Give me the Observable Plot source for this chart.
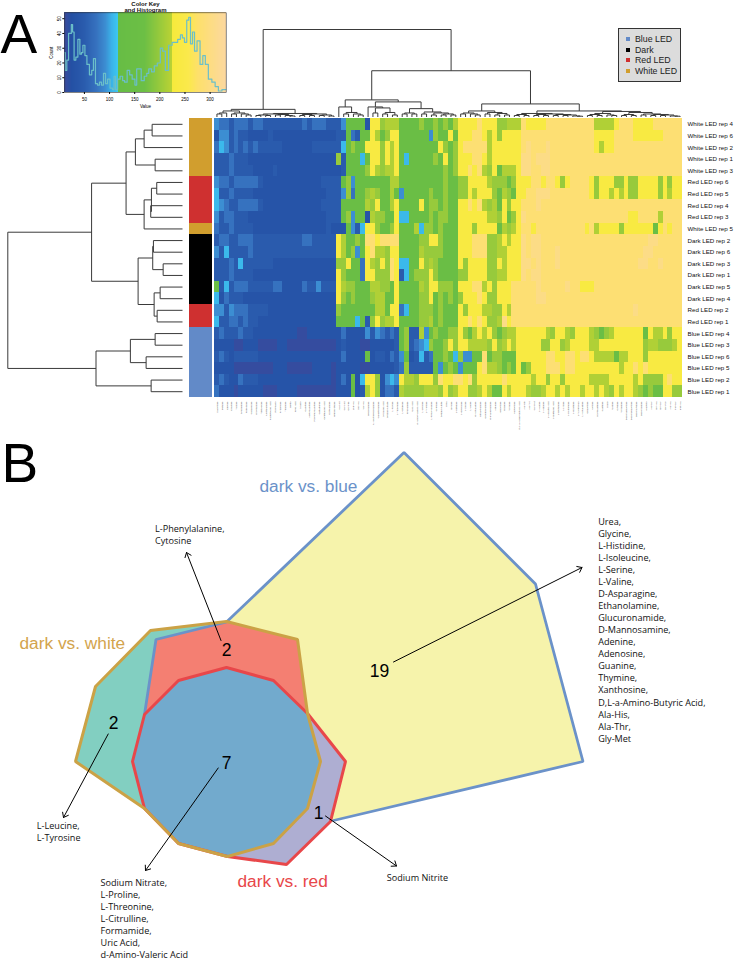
<!DOCTYPE html>
<html>
<head>
<meta charset="utf-8">
<script src="https://cdn.jsdelivr.net/npm/d3@7"></script>
<script src="https://cdn.jsdelivr.net/npm/@observablehq/plot@0.6"></script>
<style>
html,body{margin:0;padding:0;background:#fff;}
#page{position:relative;width:734px;height:960px;overflow:hidden;font-family:"Liberation Sans",sans-serif;}
#page svg{position:absolute;background:transparent;overflow:visible;}
#legend{position:absolute;left:618px;top:28px;width:61px;height:52px;background:#dcdcdc;border:1px solid #333;font-size:8.8px;color:#222;}
#legend div{position:absolute;left:16px;line-height:10px;white-space:nowrap;}
#legend i{position:absolute;left:-9px;top:3px;width:4px;height:4px;display:block;}
</style>
</head>
<body>
<div id="page"></div>
<script>
// ---------- A: heat map ----------
const rowLabels = ["White LED rep 4","White LED rep 6","White LED rep 2","White LED rep 1","White LED rep 3","Red LED rep 6","Red LED rep 5","Red LED rep 4","Red LED rep 3","White LED rep 5","Dark LED rep 2","Dark LED rep 6","Dark LED rep 3","Dark LED rep 1","Dark LED rep 5","Dark LED rep 4","Red LED rep 2","Red LED rep 1","Blue LED rep 4","Blue LED rep 3","Blue LED rep 6","Blue LED rep 5","Blue LED rep 2","Blue LED rep 1"];
const rowGroups = ["White LED","White LED","White LED","White LED","White LED","Red LED","Red LED","Red LED","Red LED","White LED","Dark","Dark","Dark","Dark","Dark","Dark","Red LED","Red LED","Blue LED","Blue LED","Blue LED","Blue LED","Blue LED","Blue LED"];
const groupNames = ["Blue LED","Dark","Red LED","White LED"];
const groupColors = ["#628ac8","#000000","#cf3030","#d19e2e"];
const columnNames = ["Sarcosine","Betaine","Choline","Creatine","Taurine","Spermidine","Putrescine","Cadaverine","Hypotaurine","Trigonelline","Nicotinamide","Pantothenic Acid","Riboflavin","Pyridoxine","Thiamine","Biotin","Folic Acid","Niacin","Carnitine","Acetylcarnitine","Propionylcarnitine","Glutathione","Ophthalmic Acid","Cysteamine","Homocysteine","Ala-Leu","Gly-Leu","Gly-Phe","Leu-Ala","Ser-Ala","Val-Ala","Glucosamine","N-Acetylglucosamine","Galactosamine","Muramic Acid","Sodium Nitrate","L-Proline","L-Threonine","L-Citrulline","Formamide","Uric Acid","d-Amino-Valeric Acid","L-Leucine","L-Tyrosine","L-Phenylalanine","Cytosine","Sodium Nitrite","Urea","Glycine","L-Histidine","L-Isoleucine","L-Serine","L-Valine","D-Asparagine","Ethanolamine","Glucuronamide","D-Mannosamine","Adenine","Adenosine","Guanine","Thymine","Xanthosine","D,L-a-Amino-Butyric Acid","Ala-His","Ala-Thr","Gly-Met","L-Alanine","L-Arginine","L-Aspartic Acid","L-Glutamic Acid","L-Glutamine","L-Lysine","L-Methionine","L-Ornithine","L-Tryptophan","L-Asparagine","Guanosine","Inosine","Hypoxanthine","Xanthine","Uracil","Uridine","Cytidine","Thymidine","Deoxyadenosine","Deoxyguanosine","Deoxycytidine","Deoxyuridine","Allantoin","Ala-Gly","Gly-Ala","Gly-Gly","Gly-Pro","Ala-Ala","Pro-Gly","Met-Ala"];

const levelValues = {Z:14, A:35, B:50, C:75, D:92, E:108, G:150, H:200, I:218, Y:238, O:285, P:305, Q:320};

const heatRows = [
 "DCCBC CCBCC BBBBB BBBCB CCCBBB DGGGG AYYHI IIGGG GHGGH GHGIY YYYOYYY HHIII OYYYYOOOOOOOOOO IIII YOOOYYYYOOOOOO",
 "ADDBC BBAAA ABAAA AAAAA AAAAAB BGCBG GYIGH YYGGG GGGDH GGYGY YYOOYIY HYYYY OOOOOOOOOOOOOOO YYYY OOOOYYYYYYOOOO",
 "CEDBC BCBCB BBBBA AAAAA BBBBBB EGHGG YYYHY IYGGG GGGGG YHGHY OOOOOIY YYYYY OPOOOPOOOOOOOOO YIYY OOOOOOOOOOOOOO",
 "BBBCB BBAAA AAAAA AAAAA AAAAAH BGGGE GYYHY IYGEG GGGGH GYGHY YYOOYIY YYYYY PPOPPPOOOOOOOOO OOOO OOOOOOOOOOOOOO",
 "BBBCB BBBAA AABAA AAAAA AAAAAA BGGGG HYIHI IYGGG GGGGG GHGHY YOYOIHY GIIIY PPOOPPOOOOOOOOO OOOO OOOOOOOOOOOOOO",
 "DCCBC CCCCB AAAAA AAAAA AABBBB GHDGG GGGGG IIGGG GGGGG GHGGH HYYYYIH HHGHY YYOOYOOYHYOOOOY HYYY HHYHHYYYYHYHYY",
 "EBBCB BBBAA AAAAA AAAAA AAABBB DHCGG HIHGG IGDGG GGGHG GHGGH HYIYYYH GIHGY YOOPPPOOOOOOOOY HYYI YIYHHYYYYHYIYY",
 "EDCBB CCCCB AAAAA AAAAA AABBBB GGGGG IHYGG IYGGG GYGHH GHGGY YOYOIHI GYHYY OOOPOOOOOOOOOOO OOOO OOOOOOOOOOOOOO",
 "DBCCB BBAAA AAAAA AAAAA AAABBB GHDGG AIHHG GYEEG GGGHG HHGGY YYYYYII HYGHY POOOOOOOOOOOOOO OOOO OOOYYOOOOIOOOO",
 "CBBCB BBBAA AAAAA AAAAA AAABAA AGDBE YYHGG HYGGG IEHHG HGGGY YYHYYYY GIHIY OOYOOOOOOOOOOYO IYYY YHYYYYYYGYOYOO",
 "BCCBB CCCBB BBBBB BBBCC BBBBBY IGGHG OOYOO OOGGG GHHYY HGGGY YYOOOHH IYIYY POPPOOOOOOOOOOO OOOO OOOOOOOPPOOOOO",
 "DBEBB BBCBB BBBBB BBBBB BBBBBY IGHDG YOIIH YYGGG GIHHH HGGGY YYOOOHH IIYYY POPPOOOPOOOOOOO OOOO OOOOOOPPOOOOOO",
 "BBBCB EBBBB BBAAA AAAAA AAAAAH HYGGC YIHYH OYEEG GYHIH GGGGY HYYYYHH YIYYY PPOPOOOPOOOOOOO OOOO OOOOOPPOOPOOOO",
 "BBBCB BBBAA AAAAA AAAAA AAAAAY HGGGC YYHHH OYBEG HHHYH GGGGH HYYYYHH IIYYY POPPOOOOOOOOOOO OOOO OOOOOOOOOOOOOO",
 "GBEBC CCBBB BBCCA AAACB BDBBBY IHHGG GIIHH GYGGG GIHYY HHHGY YYOOIYH YYYOO OOOPOOOOOPOOYYY OOOO OOOOOOOOOOOOOO",
 "EACBB BAAAA AAAAA AAAAA AAAAAY HGHGG GHIIG GYGGG GHHYG HGHGH YYYOYHH YYYOO OOOPPOOOOOOOOOO OOOO OOOOOOOOOOOOOO",
 "DDBDC CCBBB BAAAA AAAAA AAAAAH GGGGG GGIIG YYCEG GHHHG HGGGY HYYYIIH HYIOO OOOOOOOOOOOOOOO OOOO OOOOPOOOOOOOOO",
 "EBBCC BCBBA AAAAA AAAAA AAAAAG GGGEG BHYHI IYGGG GHHIG HGGGY YOYOYHH IPYOO OOOOOOOOOOOOOOO OOOO OOOOOOOOOOOOOO",
 "BCBBB CBBAA AAAAA AAZZA AAAAAA CAAAA DBDCB CBGHB BIDGH GGHHY HGIYIYH GHIIY YYYYYIHYYIHYYYI HGHI YYYYYYGYIIYHYY",
 "AAAAZ ZAAAZ ZZZAA ZZZZZ ZZZZZA BAAAZ ZAAAA ABGHB CDEHG GHYHY YIIIIHY HIYIY YYYYHHYYHIYYYYI IYYY YYYYYYHIIHHHIY",
 "BCBAB BBBBA AAAAA AAAAA AAAAAA CAAAA GABBA CBDGA BEBCG GHGEH DDGGOGH HGGGY YYYYYOOYYOOYOOY IIII GIIYYYHYYYYYYY",
 "AAAAZ ZZZZZ ZZAAA ZZZZZ AAAAZA AAAAZ ZAAAA ABCHB BBBBG DGHGD GGGYOII HGHGY GHYYYOOOYOOYYYY YYYY YIYYOYOYYYYYYY",
 "BCBAA CBBBA AAAAA AAAAA AAAAZA CAGAE YYHAD EDYII HYYYH OYYOO YOHYYYY YOYYY YYIYYHYYHYYYYYI IIIY YYYYIYHHHHYOYY",
 "CAAAZ AAAAA ZZZAA AAZZZ ZZZZZA AAGAB IYHAC CBIHH HHIII HYHIY YHHIYIG GYIYY YIHHIYYIYIYYIYY IYIH YIYYIHGHGGYYHH"
];

// Colour key, piecewise as printed above the heat map
const keyDomain = [11,   25,       50,       75,       92,       104,      116,      117,      170,      224,      225,      258,      275,      332];
const keyRange  = ["#3a4b9e","#2450a4","#2a5bad","#3672bf","#3c8ed2","#3ab2e8","#3cc6f0","#67bd45","#6cbf45","#b9d234","#f6ea3c","#fbe94c","#fde06a","#fcd8a0"];

// Histogram inside the colour key
const histValue = [11,13,17,20,23,25,28,31,35,39,43,45,49,53,57,63,66,70,74,78,82,86,90,94,98,104,108,110,114,118,124,128,132,138,142,148,153,155,160,166,172,176,180,187,191,199,203,208,214,221,228,232,239,243,247,251,256,259,263,267,271,277,283,288,293,300,307,313,320,327,331];
const histCount = [27,15,22,40,40,46,41,22,24,36,26,27,32,25,19,12,15,23,6,5,7,5,13,6,9,3,2,11,2,9,11,8,7,15,12,9,5,16,16,8,11,13,16,14,18,20,30,28,15,32,34,34,36,39,37,34,49,51,33,41,28,35,19,25,19,9,7,4,1,2,2];
const keyTicksX = [50,100,150,200,250,300];
const keyTicksY = [0,10,20,30,40,50];

// Row dendrogram: [merge height, child, child]; a bare number is a row index
const rowTree = [174.3,
  [90.7,
    [56.3,
      [47, [38.3,[30.3,0,1],2],[27.3,3,4]],
      [38.3,[31,[25.7,5,6],[31.7,7,8]],9]],
    [44.3,
      [29.7,[29,10,11],[19.3,12,13]],
      [28.3,[22.3,14,15],[25.3,16,17]]]],
  [86.3,
    [52,[27.3,18,19],[36.3,20,21]],
    [31.3,22,23]]];

// Column dendrogram: [merge height, child, child]; a bare number is a column index
const colTree = [87,
  [7.6,
    [6,[4,[3,0,1],2],[4,[3,3,4],[3,5,[2,6,7]]]],
    [3.5,
      [3,[2,[1.5,8,9],[1.5,10,11]],[2.5,[2,12,13],[1.5,14,[1,15,16]]]],
      [3,[2.5,[1.5,17,18],[1.5,19,20]],[2,[1.5,21,22],[1,23,24]]]]],
  [46,
    [17,
      [10,25,[4.5,[3,26,27],[3,28,[2,29,30]]]],
      [15,
        [10,31,[9,[4,32,33],[4.5,[3,34,35],[2,36,37]]]],
        [8.3,[4,[3,38,39],[3,40,41]],[5,[3,42,43],[4,[2,44,45],[3,[2,46,47],[2,48,49]]]]]]],
    [13,
      [6,[4,[3,50,51],[3,52,[2,53,54]]],[4.5,[3,55,56],[3.5,[2,57,58],[2,59,60]]]],
      [6,
        [3.5,[2.5,[1.5,61,62],[1.5,63,64]],[3,[2.5,[1.5,65,66],[1.5,67,68]],[2.5,[1.5,69,70],[2,[1.5,71,72],[1,73,[0.8,74,75]]]]]],
        [5.5,
          [3.5,[2.5,[1.5,76,77],[1.5,78,79]],[2,80,[1.5,81,82]]],
          [4.5,[2.5,[1.5,83,84],[1.5,85,86]],[3,[2,87,88],[2.5,[1.5,89,90],[2,[1.5,91,92],[1,93,[0.8,94,95]]]]]]]]]]];

// ---------- B: overlap diagram, in drawing units ----------
const polyBlue  = [[226,621.5],[403.5,452],[535,583.5],[582.5,761],[333,820],[226,790],[144,714],[155.5,639]];
const polyGold  = [[226,621],[297,639],[307,713],[320,761],[307,808],[273,843],[227,856],[178,843],[144,808],[75,761],[95,686],[150,630]];
const polyRed   = [[226,667],[273,680],[307,713],[345,761],[330,821],[286,864],[227,856],[178,843],[144,808],[132,761],[144,714],[178,680]];
const polyCoral = [[155.5,639],[226,621.5],[297,639],[307,713],[226,750],[144,714]];
const polyCore  = [[226,667],[273,680],[307,713],[320,761],[307,808],[273,843],[227,856],[178,843],[144,808],[132,761],[144,714],[178,680]];
const edgeBlue  = [[333,820],[582.5,761],[535,583.5],[403.5,452],[226,621.5],[155.5,639],[144,714]];

const vennNames = [
  {label:"dark vs. blue", x:259, y:491, color:"#6b92c9"},
  {label:"dark vs. white",x:19,  y:648, color:"#d3a44d"},
  {label:"dark vs. red",  x:237, y:886, color:"#e8474a"}
];
const vennCounts = [
  {label:"2", x:226, y:655},
  {label:"19",x:379, y:676},
  {label:"2", x:113, y:728},
  {label:"7", x:226, y:768},
  {label:"1", x:318, y:818}
];
const vennArrows = [
  {x1:220.5,y1:640,  x2:186,  y2:552},
  {x1:107.7,y1:733.5,x2:63,   y2:817},
  {x1:217.7,y1:767.5,x2:145,  y2:870},
  {x1:325,  y1:815.5,x2:396,  y2:865.5},
  {x1:393,  y1:661.5,x2:581.5,y2:567}
];
const compoundLists = [
  {x:154.5,y:531.7,names:["L-Phenylalanine,","Cytosine"]},
  {x:36.3, y:828.3,names:["L-Leucine,","L-Tyrosine"]},
  {x:100,  y:885,  names:["Sodium Nitrate,","L-Proline,","L-Threonine,","L-Citrulline,","Formamide,","Uric Acid,","d-Amino-Valeric Acid"]},
  {x:386.3,y:880,  names:["Sodium Nitrite"]},
  {x:597.7,y:524,  names:["Urea,","Glycine,","L-Histidine,","L-Isoleucine,","L-Serine,","L-Valine,","D-Asparagine,","Ethanolamine,","Glucuronamide,","D-Mannosamine,","Adenine,","Adenosine,","Guanine,","Thymine,","Xanthosine,","D,L-a-Amino-Butyric Acid,","Ala-His,","Ala-Thr,","Gly-Met"]}
];
const panelLetters = [{label:"A",x:0,y:52},{label:"B",x:1,y:481}];

// ---------- build ----------
const page = document.getElementById("page");
function place(svg,left,top){ svg.style.left = left+"px"; svg.style.top = top+"px"; page.appendChild(svg); }

// tree -> segments, leaves sit on their row/column index
function treeLinks(node){
  const links = [];
  (function walk(n){
    if (typeof n === "number") return {pos:n,h:0};
    const a = walk(n[1]), b = walk(n[2]);
    links.push({h1:n[0],p1:a.pos,h2:n[0],p2:b.pos});
    links.push({h1:a.h,p1:a.pos,h2:n[0],p2:a.pos});
    links.push({h1:b.h,p1:b.pos,h2:n[0],p2:b.pos});
    return {pos:(a.pos+b.pos)/2,h:n[0]};
  })(node);
  return links;
}

const heatCells = heatRows.flatMap((s,r)=>Array.from(s.replace(/ /g,""),(c,col)=>({row:rowLabels[r],col,value:levelValues[c]})));
const colorOpts = {type:"linear",domain:keyDomain,range:keyRange,clamp:true};
const keyValues = d3.range(11,332);
const hist = histValue.map((v,i)=>({v,c:histCount[i]}));

// Diagram layer
const compoundLines = compoundLists.flatMap(l=>l.names.map((name,i)=>({name,x:l.x,y:l.y+i*12.07})));
place(Plot.plot({
  width:734,height:960,margin:0,
  x:{domain:[0,734],range:[0,734],axis:null},
  y:{domain:[0,960],range:[0,960],axis:null},
  marks:[
    Plot.line(polyBlue, {x:d=>d[0],y:d=>d[1],curve:"linear-closed",fill:"#f6f3ab"}),
    Plot.line(polyGold, {x:d=>d[0],y:d=>d[1],curve:"linear-closed",fill:"#82cfc1"}),
    Plot.line(polyCoral,{x:d=>d[0],y:d=>d[1],curve:"linear-closed",fill:"#f47f72"}),
    Plot.line(polyRed,  {x:d=>d[0],y:d=>d[1],curve:"linear-closed",fill:"#aeaed2"}),
    Plot.line(polyCore, {x:d=>d[0],y:d=>d[1],curve:"linear-closed",fill:"#72aacd"}),
    Plot.line(edgeBlue, {x:d=>d[0],y:d=>d[1],stroke:"#6b92c9",strokeWidth:2.8,strokeLinejoin:"miter"}),
    Plot.line(polyRed,  {x:d=>d[0],y:d=>d[1],curve:"linear-closed",stroke:"#e8474a",strokeWidth:3,strokeLinejoin:"miter"}),
    Plot.line(polyGold, {x:d=>d[0],y:d=>d[1],curve:"linear-closed",stroke:"#cba246",strokeWidth:3,strokeLinejoin:"miter"}),
    Plot.arrow(vennArrows,{x1:"x1",y1:"y1",x2:"x2",y2:"y2",stroke:"#000",strokeWidth:1,headLength:8,headAngle:75,bend:0}),
    Plot.text(vennNames,{x:"x",y:"y",text:"label",fill:"color",fontSize:17.3,textAnchor:"start",lineAnchor:"bottom",fontFamily:"Liberation Sans"}),
    Plot.text(vennCounts,{x:"x",y:"y",text:"label",fill:"#000",fontSize:17.5,textAnchor:"middle",lineAnchor:"bottom",fontFamily:"Liberation Sans"}),
    Plot.text(compoundLines,{x:"x",y:"y",text:"name",fill:"#111",fontSize:9.1,textAnchor:"start",lineAnchor:"bottom",fontFamily:"Open Sans"}),
    Plot.text(panelLetters,{x:"x",y:"y",text:"label",fill:"#000",fontSize:55,textAnchor:"start",lineAnchor:"bottom",fontFamily:"Liberation Sans"})
  ]
}),0,0);

// Colour key with histogram
place(Plot.plot({
  width:200,height:110,marginLeft:20.3,marginRight:18.3,marginTop:12.3,marginBottom:18,
  x:{domain:[11,332],axis:null},
  y:{domain:[0,54],axis:null},
  color:colorOpts,
  style:{fontFamily:"Liberation Sans"},
  marks:[
    Plot.rect(keyValues,{x1:d=>d,x2:d=>d+1,y1:()=>0,y2:()=>54,fill:d=>d,shapeRendering:"crispEdges"}),
    Plot.line(hist,{x:"v",y:"c",curve:"step",stroke:"#6bbfc9",strokeWidth:1.2}),
    Plot.frame({stroke:"#333",strokeWidth:0.6}),
    Plot.axisX({anchor:"bottom",ticks:keyTicksX,tickSize:2,tickPadding:3,fontSize:4.5,label:"Value",labelAnchor:"center",labelArrow:"none",labelOffset:15}),
    Plot.axisY({anchor:"left",ticks:keyTicksY,tickSize:2,tickPadding:2,fontSize:4.5,tickRotate:-90,label:"Count",labelAnchor:"center",labelArrow:"none",labelOffset:15}),
    Plot.text(["Color Key\nand Histogram"],{frameAnchor:"top",dy:-12,fontWeight:"bold",fontSize:6,lineHeight:1.12,fill:"#111"})
  ]
}),44,0);

// Column dendrogram
place(Plot.plot({
  width:468,height:98,margin:0,
  x:{domain:[-0.5,95.5],axis:null},
  y:{domain:[0,87],range:[96.5,9],axis:null},
  marks:[Plot.link(treeLinks(colTree),{x1:"p1",x2:"p2",y1:"h1",y2:"h2",stroke:"#3a3a3a",strokeWidth:1})]
}),213.5,20);

// Row dendrogram
place(Plot.plot({
  width:184,height:279,margin:0,
  x:{domain:[174.3,0],range:[7.3,182],axis:null},
  y:{domain:[-0.5,23.5],range:[0,279],axis:null},
  marks:[Plot.link(treeLinks(rowTree),{x1:"h1",x2:"h2",y1:"p1",y2:"p2",stroke:"#3a3a3a",strokeWidth:1})]
}),0,118.3);

// Group side bar
place(Plot.plot({
  width:23,height:279,margin:0,
  x:{domain:["group"],padding:0,round:false,axis:null},
  y:{domain:rowLabels,padding:0,round:false,axis:null},
  color:{domain:groupNames,range:groupColors},
  marks:[Plot.cell(rowLabels.map((r,i)=>({row:r,group:rowGroups[i]})),{x:()=>"group",y:"row",fill:"group",shapeRendering:"crispEdges"})]
}),188.5,118.3);

// Heat map
place(Plot.plot({
  width:520,height:314,marginTop:0,marginLeft:0,marginRight:52,marginBottom:35,
  x:{domain:d3.range(96),padding:0,round:false,axis:null},
  y:{domain:rowLabels,padding:0,round:false,axis:null},
  color:colorOpts,
  style:{fontFamily:"Liberation Sans"},
  marks:[
    Plot.cell(heatCells,{x:"col",y:"row",fill:"value",shapeRendering:"crispEdges"}),
    Plot.axisY({anchor:"right",tickSize:0,tickPadding:5,fontSize:6.2,label:null,fill:"#111"}),
    Plot.axisX({anchor:"bottom",ticks:d3.range(96),tickFormat:i=>columnNames[i],tickSize:0,tickPadding:4,tickRotate:-90,fontSize:2.5,label:null,fill:"#444"})
  ]
}),213.5,118.3);

// Legend box
const legend = document.createElement("div");
legend.id = "legend";
groupNames.forEach((g,i)=>{
  const d = document.createElement("div");
  d.style.top = (5+i*10.5)+"px";
  d.innerHTML = '<i style="background:'+groupColors[i]+'"></i>'+g;
  legend.appendChild(d);
});
page.appendChild(legend);
</script>
</body>
</html>
